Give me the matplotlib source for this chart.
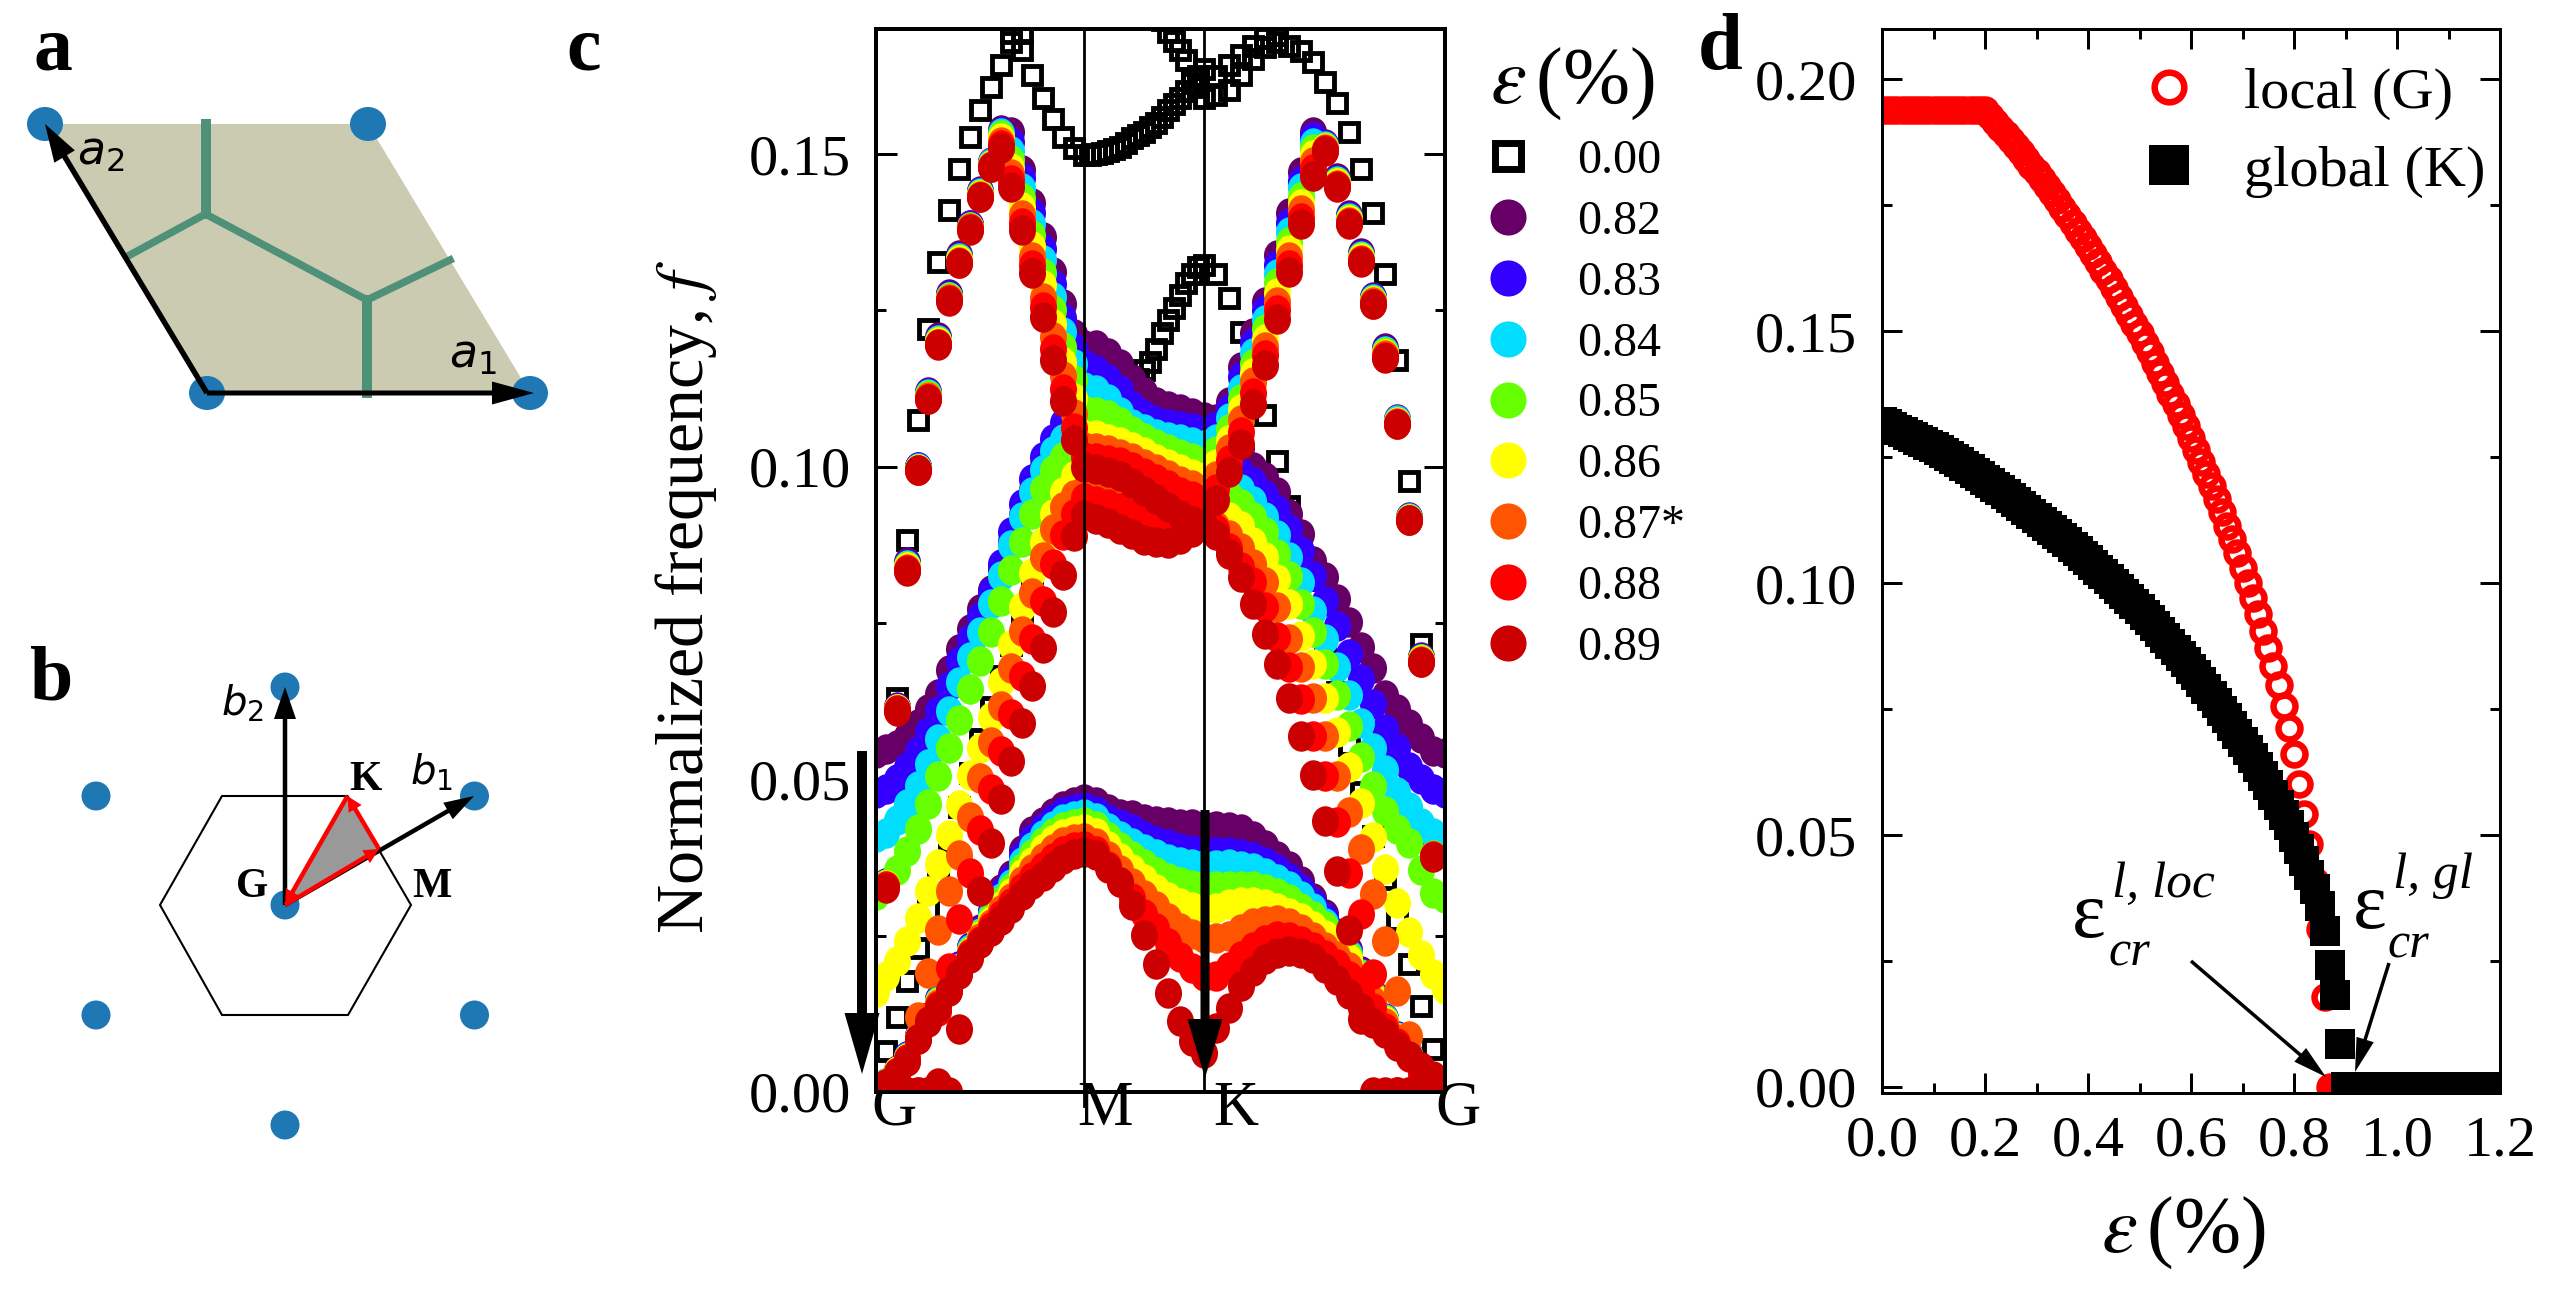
import numpy as np
import matplotlib
matplotlib.use('Agg')
import matplotlib.pyplot as plt
from matplotlib.lines import Line2D
from matplotlib.markers import MarkerStyle
from matplotlib.patches import Polygon, Ellipse
from matplotlib.ticker import MultipleLocator, FormatStrFormatter
from matplotlib.transforms import ScaledTranslation, Affine2D

plt.rcParams['font.family'] = ['Liberation Serif', 'DejaVu Serif']
plt.rcParams['mathtext.fontset'] = 'stix'

W, H = 2549, 1292
nan = float('nan')

# ---------- panel c data: reciprocal-space path and bands ----------
path_ticks = [0.0, 1.0, 1.577, 2.732]
path_labels = ['G', 'M', 'K', 'G']
k_col = np.concatenate([np.linspace(0, 1, 21), np.linspace(1, 1.577, 11)[1:], np.linspace(1.577, 2.732, 21)[1:]])
k_sq = np.concatenate([np.linspace(0, 1, 21), np.linspace(1, 1.577, 21)[1:], np.linspace(1.577, 2.732, 21)[1:]])

strain_labels = ['0.00', '0.82', '0.83', '0.84', '0.85', '0.86', '0.87*', '0.88', '0.89']
strain_colors = ['black', '#660066', '#3300FF', '#00DDFF', '#66FF00', '#FFFF00', '#FF5500', '#FF0000', '#CC0000']

sq_1 = [0,.0065,.012,.0177,.0231,.0291,.0345,.0400,.0455,.0510,.0565,.0615,.0665,.0715,.0765,.0810,.0855,.0895,.0930,.0960,.0985,
        .1000,.1018,.1035,.1052,.1070,.1088,.1105,.1122,.1140,.1155,.1168,.1188,.1214,.1234,.1254,.1274,.1294,.1308,.1319,.1322,
        .1308,.1270,.1215,.1150,.1083,.1009,.0937,.0865,.0790,.0710,.0640,.0555,.0480,.0410,.0340,.0275,.0204,.0137,.0068,0]
sq_2 = [0,.0335,.0630,.0883,.1074,.1220,.1328,.1411,.1476,.1527,.1570,.1607,.1643,.1679,.1667,.1627,.1590,.1556,.1528,.1510,.1499,
        .1499,.1500,.1502,.1505,.1508,.1512,.1518,.1525,.1530,.1536,.1543,.1550,.1560,.1570,.1580,.1590,.1601,.1613,.1625,.1636,
        .1625,.1642,.1659,.1673,.1685,.1679,.1673,.1665,.1647,.1616,.1582,.1536,.1476,.1405,.1308,.1171,.0977,.0716,.0385,0]
sq_3 = [nan]*21 + [nan]*12 + [.1715,.1695,.1681,.1667,.1650,.1621,.1607,.1590] + [.1595,.1602,.1627,.1652,.1672,.1690] + [nan]*14
sq_4 = [nan]*13 + [.1693,.1694] + [nan]*46

opt_082 = [0,.0335,.0615,.0847,.1000,.1120,.1207,.1276,.1338,.1387,.1441,.1487,.1538,.1535,.1475,.1421,.1367,.1312,.1261,.1213,.1195,
           .1194,.1182,.1165,.1140,.1120,.1103,.1097,.1093,.1086,.1079,
           .1077,.1104,.1159,.1214,.1264,.1338,.1405,.1471,.1536,.1516,.1461,.1402,.1341,.1272,.1190,.1076,.0919,.0695,.0382,0]
opt_083 = [0,.0334,.0614,.0845,.0999,.1118,.1205,.1274,.1336,.1386,.1440,.1486,.1536,.1520,.1462,.1405,.1348,.1292,.1238,.1190,.1164,
           .1154,.1140,.1123,.1097,.1083,.1073,.1068,.1065,.1062,.1057,
           .1065,.1093,.1143,.1198,.1250,.1323,.1390,.1457,.1528,.1515,.1459,.1400,.1339,.1270,.1187,.1075,.0918,.0694,.0381,0]
opt_084 = [0,.0333,.0613,.0843,.0998,.1116,.1203,.1272,.1334,.1384,.1438,.1485,.1533,.1505,.1445,.1388,.1330,.1272,.1215,.1165,.1127,
           .1122,.1108,.1088,.1068,.1060,.1053,.1048,.1044,.1040,.1034,
           .1045,.1078,.1125,.1182,.1235,.1308,.1375,.1445,.1518,.1513,.1457,.1398,.1337,.1268,.1185,.1074,.0918,.0693,.0380,0]
opt_085 = [0,.0332,.0612,.0841,.0997,.1114,.1201,.1271,.1332,.1383,.1436,.1483,.1530,.1490,.1430,.1370,.1310,.1250,.1192,.1138,.1090,
           .1088,.1083,.1071,.1057,.1046,.1037,.1029,.1020,.1014,.1007,
           .1025,.1060,.1108,.1165,.1220,.1293,.1360,.1432,.1508,.1512,.1455,.1396,.1335,.1266,.1183,.1072,.0917,.0692,.0379,0]
opt_086 = [0,.0331,.0612,.0839,.0996,.1112,.1199,.1269,.1330,.1382,.1435,.1482,.1525,.1478,.1415,.1353,.1290,.1228,.1168,.1110,.1050,
           .1050,.1045,.1040,.1032,.1023,.1013,.1004,.0996,.0988,.0983,
           .1005,.1042,.1092,.1150,.1205,.1278,.1347,.1420,.1498,.1510,.1453,.1394,.1333,.1265,.1181,.1071,.0916,.0691,.0378,0]
opt_087 = [0,.0330,.0611,.0837,.0995,.1111,.1197,.1268,.1328,.1381,.1433,.1481,.1520,.1468,.1402,.1336,.1270,.1208,.1145,.1085,.1031,
           .1030,.1027,.1021,.1014,.1005,.0996,.0986,.0977,.0970,.0963,
           .0985,.1028,.1075,.1135,.1192,.1263,.1335,.1410,.1488,.1508,.1451,.1392,.1331,.1263,.1179,.1070,.0915,.0690,.0378,0]
opt_088 = [0,.0329,.0611,.0835,.0995,.1109,.1196,.1266,.1326,.1380,.1432,.1480,.1515,.1458,.1390,.1323,.1255,.1188,.1125,.1062,.1016,
           .1014,.1011,.1007,.1000,.0990,.0980,.0970,.0960,.0953,.0946,
           .0965,.1010,.1055,.1118,.1178,.1250,.1323,.1398,.1476,.1506,.1449,.1390,.1329,.1261,.1176,.1069,.0915,.0688,.0377,0]
opt_089 = [0,.0327,.0610,.0833,.0994,.1108,.1194,.1265,.1325,.1379,.1431,.1479,.1510,.1448,.1379,.1310,.1239,.1170,.1105,.1042,.0999,
           .0996,.0991,.0985,.0974,.0961,.0948,.0935,.0923,.0913,.0906,
           .0946,.0991,.1037,.1100,.1162,.1237,.1311,.1388,.1465,.1505,.1448,.1388,.1328,.1260,.1174,.1068,.0914,.0687,.0376,0]

mid_082 = [.0542,.0548,.0555,.0569,.0589,.0612,.0637,.0675,.0709,.0740,.0772,.0803,.0837,.0879,.0922,.0962,.1001,.1030,.1059,.1085,.1100,
           .1097,.1094,.1091,.1088,.1085,.1082,.1079,.1076,.1073,.1070,
           .1060,.1040,.1030,.0999,.0984,.0959,.0925,.0893,.0850,.0823,.0789,.0752,.0712,.0678,.0635,.0612,.0589,.0566,.0546,.0542]
mid_083 = [.0478,.0485,.0500,.0520,.0545,.0575,.0610,.0650,.0690,.0725,.0760,.0800,.0845,.0895,.0940,.0980,.1015,.1045,.1070,.1085,.1095,
           .1090,.1085,.1080,.1075,.1068,.1060,.1052,.1044,.1035,.1025,
           .1015,.1005,.0990,.0975,.0955,.0930,.0900,.0865,.0825,.0785,.0745,.0700,.0660,.0620,.0580,.0550,.0520,.0500,.0485,.0478]
mid_084 = [.0408,.0415,.0435,.0460,.0490,.0525,.0565,.0610,.0655,.0695,.0735,.0780,.0825,.0875,.0920,.0960,.0995,.1025,.1045,.1060,.1065,
           .1060,.1055,.1050,.1045,.1038,.1032,.1025,.1018,.1010,.0995,
           .0990,.0980,.0965,.0945,.0920,.0890,.0855,.0815,.0770,.0725,.0680,.0635,.0590,.0550,.0515,.0480,.0455,.0430,.0415,.0408]
mid_085 = [.0315,.0330,.0355,.0385,.0420,.0460,.0505,.0550,.0595,.0645,.0690,.0735,.0785,.0835,.0880,.0925,.0965,.0995,.1015,.1030,.1035,
           .1030,.1025,.1020,.1015,.1010,.1005,.0998,.0990,.0982,.0970,
           .0965,.0955,.0940,.0920,.0895,.0860,.0825,.0780,.0735,.0685,.0635,.0585,.0535,.0490,.0450,.0420,.0399,.0355,.0319,.0310]
mid_086 = [.0160,.0185,.0210,.0242,.0279,.0322,.0365,.0411,.0459,.0507,.0550,.0599,.0655,.0715,.0775,.0830,.0880,.0925,.0960,.0985,.0995,
           .0990,.0985,.0980,.0975,.0970,.0965,.0960,.0955,.0948,.0940,
           .0935,.0920,.0905,.0880,.0855,.0820,.0780,.0730,.0685,.0630,.0575,.0520,.0462,.0408,.0356,.0302,.0256,.0219,.0188,.0165]
mid_087 = [0,0,.001,.005,.0120,.0191,.0259,.0322,.0379,.0439,.0502,.0560,.0618,.0678,.0738,.0798,.0855,.0900,.0935,.0955,.0962,
           .0960,.0957,.0952,.0946,.0938,.0930,.0925,.0925,.0930,.0940,
           .0905,.0890,.0870,.0845,.0815,.0775,.0725,.0680,.0630,.0570,.0505,.0447,.0388,.0316,.0242,.0162,.0090,.0030,0,0]
mid_088 = [0,0,0,0,0,0,.0130,.0199,.0276,.0351,.0419,.0485,.0545,.0605,.0665,.0725,.0785,.0845,.0890,.0925,.0950,
           .0945,.0940,.0934,.0925,.0916,.0910,.0907,.0908,.0915,.0930,
           .0900,.0870,.0840,.0815,.0775,.0728,.0680,.0628,.0570,.0505,.0432,.0350,.0285,.0188,.0100,0,0,0,0,0]
mid_089 = [0,0,0,0,0,0,.0015,0,.0100,.0215,.0322,.0399,.0468,.0530,.0590,.0650,.0710,.0767,.0827,.0889,.0922,
           .0917,.0910,.0901,.0892,.0883,.0879,.0878,.0884,.0896,.0907,
           .0890,.0860,.0824,.0781,.0733,.0684,.0630,.0570,.0507,.0433,.0353,.0259,.0117,0,0,0,0,0,0,0]

ac_082 = [0,.0015,.0035,.0058,.0090,.0120,.0148,.0175,.0202,.0232,.0260,.0290,.0324,.0347,.0387,.0418,.0432,.0446,.0458,.0463,.0468,
          .0463,.0452,.0445,.0443,.0437,.0433,.0431,.0429,.0428,.0425,
          .0425,.0424,.0420,.0409,.0395,.0378,.0361,.0338,.0310,.0284,.0255,.0227,.0193,.0158,.0118,.0090,.0061,.0033,.0020,0]
ac_083 = [0,.0015,.0034,.0057,.0089,.0119,.0147,.0174,.0201,.0230,.0258,.0287,.0318,.0340,.0378,.0405,.0422,.0436,.0447,.0452,.0455,
          .0450,.0437,.0428,.0420,.0410,.0402,.0396,.0391,.0387,.0384,
          .0384,.0384,.0381,.0376,.0368,.0357,.0343,.0325,.0303,.0279,.0251,.0224,.0191,.0156,.0117,.0089,.0060,.0032,.0020,0]
ac_084 = [0,.0014,.0034,.0056,.0088,.0118,.0145,.0172,.0199,.0228,.0255,.0283,.0311,.0333,.0368,.0392,.0411,.0425,.0436,.0441,.0444,
          .0438,.0423,.0410,.0398,.0388,.0380,.0373,.0368,.0365,.0363,
          .0363,.0364,.0362,.0358,.0351,.0341,.0329,.0313,.0294,.0271,.0246,.0220,.0189,.0155,.0116,.0088,.0059,.0032,.0019,0]
ac_085 = [0,.0014,.0033,.0055,.0087,.0117,.0144,.0170,.0197,.0226,.0252,.0279,.0305,.0326,.0358,.0380,.0400,.0414,.0424,.0429,.0431,
          .0425,.0408,.0392,.0377,.0364,.0352,.0343,.0336,.0331,.0329,
          .0329,.0329,.0330,.0329,.0325,.0318,.0308,.0295,.0281,.0265,.0242,.0217,.0187,.0154,.0115,.0087,.0059,.0031,.0019,0]
ac_086 = [0,.0013,.0033,.0054,.0086,.0116,.0142,.0168,.0195,.0224,.0249,.0274,.0298,.0319,.0348,.0368,.0388,.0403,.0413,.0418,.0420,
          .0414,.0393,.0374,.0356,.0340,.0325,.0312,.0302,.0296,.0292,
          .0295,.0301,.0304,.0304,.0300,.0295,.0287,.0278,.0266,.0251,.0235,.0213,.0184,.0152,.0114,.0086,.0058,.0031,.0018,0]
ac_087 = [0,.0013,.0032,.0053,.0086,.0115,.0140,.0166,.0193,.0222,.0246,.0269,.0291,.0311,.0337,.0356,.0375,.0389,.0400,.0405,.0407,
          .0399,.0378,.0355,.0334,.0315,.0297,.0279,.0263,.0252,.0246,
          .0246,.0250,.0260,.0270,.0274,.0275,.0270,.0261,.0248,.0232,.0218,.0200,.0174,.0146,.0110,.0084,.0057,.0030,.0018,0]
ac_088 = [0,.0012,.0031,.0052,.0085,.0113,.0137,.0163,.0191,.0220,.0242,.0264,.0283,.0303,.0326,.0344,.0360,.0375,.0386,.0392,.0394,
          .0386,.0362,.0336,.0310,.0285,.0262,.0239,.0216,.0198,.0186,
          .0186,.0200,.0218,.0232,.0243,.0250,.0248,.0242,.0232,.0219,.0204,.0186,.0162,.0135,.0103,.0079,.0056,.0029,.0017,0]
ac_089 = [0,.0012,.0030,.0050,.0084,.0112,.0135,.0161,.0189,.0218,.0238,.0258,.0275,.0295,.0315,.0332,.0346,.0360,.0372,.0380,.0384,
          .0379,.0359,.0336,.0299,.0251,.0205,.0159,.0114,.0082,.0062,
          .0102,.0134,.0169,.0194,.0212,.0222,.0225,.0223,.0214,.0199,.0179,.0157,.0134,.0111,.0094,.0074,.0057,.0040,.0025,0]

# ---------- panel d data: gaps against strain, read every 0.01 ----------
local_g = [.194]*20 + [.1940,.1928,.1916,.1904,.1892,.1880,.1868,.1855,.1842,.1829,
           .1816,.1802,.1788,.1774,.1760,.1745,.1730,.1715,.1700,.1685,
           .1669,.1653,.1637,.1620,.1603,.1586,.1569,.1551,.1533,.1515,
           .1496,.1477,.1458,.1438,.1418,.1397,.1376,.1355,.1333,.1311,
           .1288,.1265,.1241,.1217,.1192,.1167,.1141,.1114,.1087,.1059,
           .1030,.1000,.0970,.0939,.0906,.0872,.0836,.0798,.0757,.0712,
           .0660,.0602,.0542,.0482,.0408,.0313,.0179] + [0.0]*34
global_k = [.1319,.1315,.1310,.1305,.1300,.1295,.1290,.1285,.1280,.1275,
            .1270,.1264,.1258,.1252,.1246,.1240,.1233,.1226,.1219,.1212,
            .1205,.1198,.1191,.1184,.1177,.1170,.1162,.1154,.1146,.1138,
            .1130,.1122,.1114,.1106,.1098,.1090,.1081,.1072,.1063,.1054,
            .1045,.1036,.1027,.1018,.1008,.0998,.0988,.0978,.0968,.0958,
            .0948,.0937,.0926,.0915,.0904,.0892,.0880,.0868,.0856,.0843,
            .0830,.0817,.0804,.0790,.0776,.0762,.0747,.0732,.0717,.0701,
            .0685,.0669,.0652,.0635,.0617,.0599,.0580,.0560,.0540,.0519,
            .0497,.0473,.0448,.0420,.0392,.0360,.0310,.0243,.0183,.0086] + [0.0]*31

# ---------- panels a, b: lattice sketches (in figure pixels) ----------
a_cell = [(45, 124), (368, 124), (530, 393), (207, 393)]
a_walls = [((205.5, 124), (205.5, 214)), ((205.5, 214), (128, 256)), ((205.5, 214), (367, 300)),
           ((367, 300), (450, 260)), ((367, 300), (367, 393))]
b_sites = [(285, 687), (96, 796), (474.5, 796), (96, 1015), (474.5, 1015), (285, 1125), (285, 905)]
b_hex = [(160, 905), (222, 796), (347.5, 796), (411, 905), (348, 1015), (222, 1015)]
b_G, b_K, b_M = (285, 905), (347.5, 796), (379, 849)

fig = plt.figure(figsize=(W/100, H/100), dpi=100, facecolor='white')

def axes_px(l, t, r, b, **kw):
    return fig.add_axes([l/W, 1-b/H, (r-l)/W, (b-t)/H], **kw)

px = 100/72
sk = axes_px(0, 0, W, H, zorder=6)
sk.set_xlim(0, W); sk.set_ylim(H, 0); sk.axis('off'); sk.patch.set_alpha(0)

def parrow(p, q, width, hw, hl, color='k', z=5):
    sk.arrow(p[0], p[1], q[0]-p[0], q[1]-p[1], width=width, head_width=hw, head_length=hl,
             length_includes_head=True, fc=color, ec='none', zorder=z)

# panel a
sk.add_patch(Polygon(a_cell, closed=True, fc='#CBCBB2', ec='none', zorder=1))
for p, q in a_walls:
    lw = 10 if p[0] == q[0] else 7.5
    sk.plot([p[0], q[0]], [p[1], q[1]], color='#4F9078', lw=lw/px, solid_capstyle='projecting', zorder=2)
for p in a_cell:
    sk.add_patch(Ellipse(p, 36, 34, fc='#1F77B4', ec='none', zorder=3))
parrow(a_cell[3], (534, 393), 5, 23, 42)
parrow(a_cell[3], (45, 124), 5.5, 24, 38)
mt = dict(math_fontfamily='dejavusans', fontsize=33, ha='center', va='center', zorder=6)
sk.text(473, 356, r'$a_1$', **mt)
sk.text(101, 153, r'$a_2$', **mt)

# panel b
sk.add_patch(Polygon(b_hex, closed=True, fc='none', ec='k', lw=1.5, zorder=1))
for p in b_sites:
    sk.add_patch(Ellipse(p, 29, 29, fc='#1F77B4', ec='none', zorder=2))
parrow(b_G, (285, 687), 4.5, 22, 32, z=3)
parrow(b_G, (474, 796), 4.5, 19, 30, z=3)
sk.add_patch(Polygon([b_G, b_K, b_M], closed=True, fc='#999999', ec='none', zorder=4))
parrow(b_G, b_M, 4.5, 15, 15, color='#FF0000')
parrow(b_M, b_K, 4.5, 15, 15, color='#FF0000')
parrow(b_K, b_G, 4.5, 15, 15, color='#FF0000')
mb = dict(math_fontfamily='dejavusans', fontsize=29, ha='center', va='center', zorder=6)
sk.text(242, 704, r'$b_2$', **mb)
sk.text(431, 773, r'$b_1$', **mb)
pl = dict(fontweight='bold', fontsize=30, ha='center', va='center', zorder=6)
sk.text(365, 780, 'K', **pl)
sk.text(252, 887, 'G', **pl)
sk.text(432, 887, 'M', **pl)

# panel letters
lt = dict(fontweight='bold', ha='left', va='baseline', zorder=6)
sk.text(33, 69, 'a', fontsize=56, **lt)
sk.text(30, 700, 'b', fontsize=56, **lt)
sk.text(566, 69, 'c', fontsize=56, **lt)
sk.text(1698, 69, 'd', fontsize=58, **lt)

# ---------- panel c ----------
ax = axes_px(876, 29, 1445, 1092, zorder=3)
sm = dict(ls='none', marker='s', ms=12.6, mew=3.5, mfc='none', mec='k', zorder=2)
for band in (sq_1, sq_2, sq_3, sq_4):
    ax.plot(k_sq, band, **sm)

dot = MarkerStyle('o', transform=Affine2D().scale(0.95, 1.07))
series = [(opt_082, mid_082, ac_082), (opt_083, mid_083, ac_083), (opt_084, mid_084, ac_084),
          (opt_085, mid_085, ac_085), (opt_086, mid_086, ac_086), (opt_087, mid_087, ac_087),
          (opt_088, mid_088, ac_088), (opt_089, mid_089, ac_089)]
for n, (bands, col) in enumerate(zip(series, strain_colors[1:])):
    for band in bands:
        ax.plot(k_col, band, ls='none', marker=dot, ms=20.5, mew=0, color=col, zorder=3+n*0.1)

ax.set_xlim(0, 2.732)
ax.set_ylim(0, 0.17)
for kv in path_ticks[1:3]:
    ax.axvline(kv, color='k', lw=2.0, zorder=5)
ax.plot([1, 1], [-0.0023, 0], color='k', lw=2.0, clip_on=False, zorder=5)
ax.set_xticks(path_ticks)
ax.set_xticklabels(path_labels, fontsize=45)
ax.tick_params(axis='x', length=0, pad=-8)
for lab, dx in zip(ax.get_xticklabels(), [18, 21, 31, 13]):
    lab.set_transform(lab.get_transform() + ScaledTranslation(dx/100, 0, fig.dpi_scale_trans))
ax.yaxis.set_major_locator(MultipleLocator(0.05))
ax.yaxis.set_minor_locator(MultipleLocator(0.025))
ax.yaxis.set_major_formatter(FormatStrFormatter('%.2f'))
ax.tick_params(axis='y', which='major', direction='in', left=True, right=True, length=21/px, width=3/px, labelsize=42, pad=18)
ax.tick_params(axis='y', which='minor', direction='in', left=True, right=True, length=10/px, width=3/px)
for s in ax.spines.values():
    s.set_linewidth(4/px); s.set_zorder(20)
ax.set_ylabel(r'Normalized frequency, $f$', fontsize=49)
ax.yaxis.set_label_coords((719-876)/569, 1-(597-29)/1063)

handles = [Line2D([], [], ls='none', marker='s', ms=18.7, mew=5, mfc='none', mec='k')]
handles += [Line2D([], [], ls='none', marker='o', ms=26, mew=0, color=c) for c in strain_colors[1:]]
leg = ax.legend(handles, strain_labels, loc='upper left', bbox_to_anchor=(1490, 46), bbox_transform=sk.transData,
                frameon=False, prop={'size': 34.6}, numpoints=1, handlelength=0.75, handletextpad=1.06,
                labelspacing=0.35, borderpad=0, borderaxespad=0,
                title=r'$\varepsilon\,$(%)', title_fontsize=58, alignment='left')

# arrows over the band plot
parrow((862, 751), (862, 1074), 10, 35, 61, z=8)
parrow((1205, 810), (1205, 1078), 9, 35, 59, z=8)

# ---------- panel d ----------
ad = axes_px(1882, 29, 2500, 1093, zorder=3)
s_loc = np.arange(len(local_g))*0.01
s_glo = np.arange(len(global_k))*0.01
ad.plot(s_loc, local_g, ls='none', marker='o', ms=15.8, mew=4.7, mfc='none', mec='#FF0000', label='local (G)', zorder=3)
ad.plot(s_glo, global_k, ls='none', marker='s', ms=21.5, mew=0, color='k', label='global (K)', zorder=4)
ad.set_xlim(0, 1.2)
ad.set_ylim(-0.0012, 0.21)
ad.xaxis.set_major_locator(MultipleLocator(0.2))
ad.xaxis.set_minor_locator(MultipleLocator(0.1))
ad.yaxis.set_major_locator(MultipleLocator(0.05))
ad.yaxis.set_minor_locator(MultipleLocator(0.025))
ad.xaxis.set_major_formatter(FormatStrFormatter('%.1f'))
ad.yaxis.set_major_formatter(FormatStrFormatter('%.2f'))
ad.tick_params(which='major', direction='in', top=True, right=True, length=20/px, width=3/px, labelsize=42)
ad.tick_params(which='minor', direction='in', top=True, right=True, length=10/px, width=3/px)
ad.tick_params(axis='y', which='major', pad=18)
ad.tick_params(axis='x', which='major', pad=16)
for s in ad.spines.values():
    s.set_linewidth(3/px); s.set_zorder(20)
ad.set_xlabel(r'$\varepsilon\,$(%)', fontsize=58)
ad.xaxis.set_label_coords((2183-1882)/618, -(1233-1093)/1064, )
ad.xaxis.label.set_va('center')
ad.legend(loc='upper left', bbox_to_anchor=(2151, 67), bbox_transform=sk.transData, frameon=False,
          prop={'size': 42}, numpoints=1, handlelength=0.6, handletextpad=1.0, labelspacing=0.42,
          borderpad=0, borderaxespad=0, markerscale=1.35)

# critical-strain annotations
sk.text(2072, 937, 'ε', fontsize=58, ha='left', va='baseline')
sk.text(2112, 897, 'l, loc', fontsize=37, fontstyle='italic', ha='left', va='baseline')
sk.text(2108, 965, 'cr', fontsize=36, fontstyle='italic', ha='left', va='baseline')
sk.text(2353, 928, 'ε', fontsize=58, ha='left', va='baseline')
sk.text(2393, 888, 'l, gl', fontsize=37, fontstyle='italic', ha='left', va='baseline')
sk.text(2387, 957, 'cr', fontsize=36, fontstyle='italic', ha='left', va='baseline')
parrow((2191, 961), (2326, 1077), 3.5, 18, 34, z=8)
parrow((2389, 963), (2355, 1072), 3.5, 18, 34, z=8)

fig.savefig('out.png', dpi=100, facecolor='white')
